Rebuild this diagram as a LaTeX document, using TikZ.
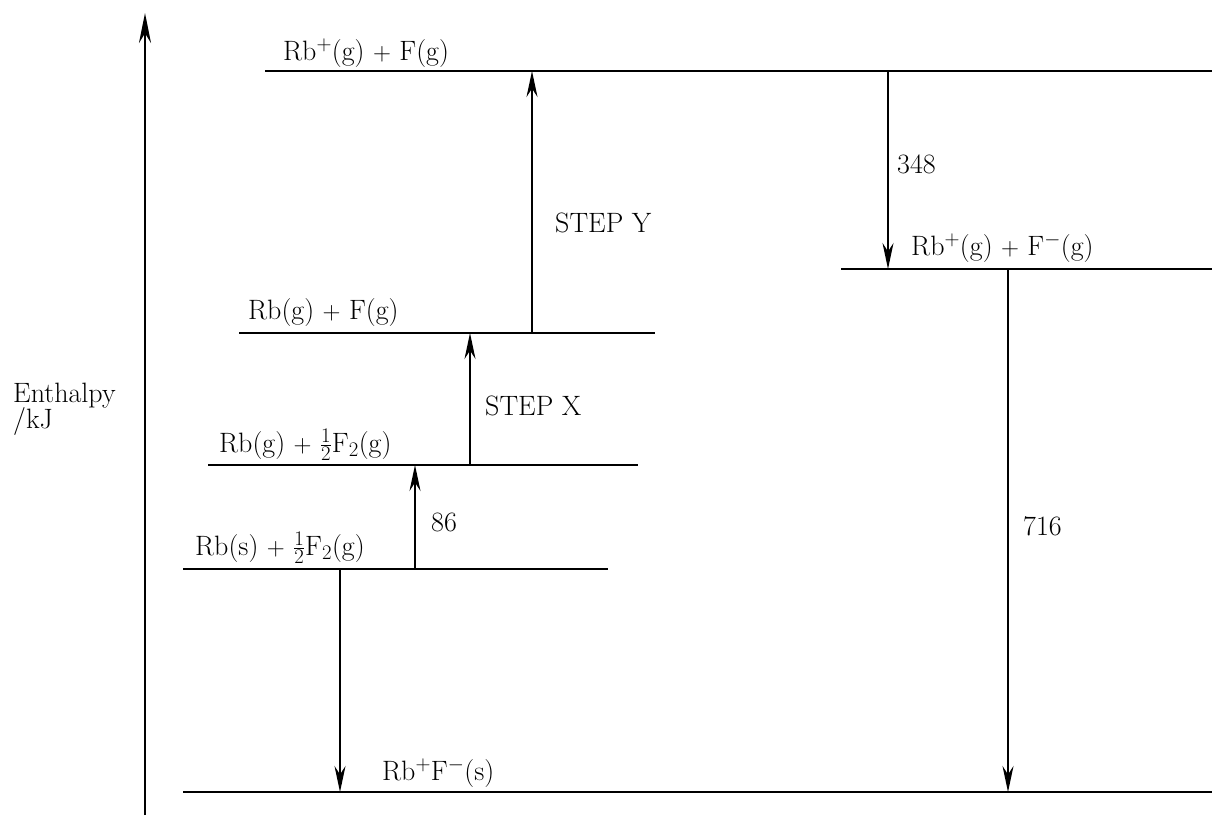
\documentclass[tikz,border=0pt]{standalone}
\usepackage{amsmath}
\usetikzlibrary{arrows.meta}
\begin{document}
\begin{tikzpicture}[x=1pt, y=-1pt, font=\fontsize{28}{33}\selectfont,
    level/.style={line width=2pt},
    enarrow/.style={line width=1.6pt, -{Stealth[length=26pt, width=11pt]}},
    lbl/.style={anchor=base west, inner sep=0pt}]
                \useasboundingbox (0,0) rectangle (1212,819);

                % Enthalpy axis
                \coordinate (axbot) at (145,815);
                \coordinate (axtop) at (145,13);
                \draw[line width=2.6pt, -{Stealth[length=30pt, width=12pt]}] (axbot) -- (axtop);
                \node[lbl] (enth) at (13,402) {Enthalpy};
                \node[lbl] (unit) at (13,428) {/kJ};

                % Levels
                \draw[level] (265,71) coordinate (topL) -- (1212,71) coordinate (topR);
                \draw[level] (841,269) coordinate (ionL) -- (1212,269) coordinate (ionR);
                \draw[level] (239,333) coordinate (atomL) -- (655,333) coordinate (atomR);
                \draw[level] (208,465) coordinate (gasL) -- (638,465) coordinate (gasR);
                \draw[level] (183,569) coordinate (solL) -- (608,569) coordinate (solR);
                \draw[level] (183,792) coordinate (latL) -- (1212,792) coordinate (latR);

                \node[lbl] (topLbl) at (283,60) {Rb$^+$(g) $+$ F(g)};
                \node[lbl] (ionLbl) at (911,255) {Rb$^+$(g) $+$ F$^-$(g)};
                \node[lbl] (atomLbl) at (248,319) {Rb(g) $+$ F(g)};
                \node[lbl] (gasLbl) at (219,452) {Rb(g) $+$ $\frac{1}{2}$F$_2$(g)};
                \node[lbl] (solLbl) at (195,555) {Rb(s) $+$ $\frac{1}{2}$F$_2$(g)};
                \node[lbl] (latLbl) at (382,780) {Rb$^+$F$^-$(s)};

                % Steps
                \coordinate (xY) at (532,0);
                \coordinate (xX) at (470,0);
                \coordinate (xAt) at (415,0);
                \coordinate (xDn) at (340,0);
                \coordinate (xEa) at (888,0);
                \coordinate (xLe) at (1008,0);

                \draw[enarrow] (xY |- atomL) -- (xY |- topL);
                \draw[enarrow] (xX |- gasL) -- (xX |- atomL);
                \draw[enarrow] (xAt |- solL) -- (xAt |- gasL);
                \draw[enarrow] (xDn |- solL) -- (xDn |- latL);
                \draw[enarrow] (xEa |- topL) -- (xEa |- ionL);
                \draw[enarrow] (xLe |- ionL) -- (xLe |- latL);

                \node[lbl] (stepY) at (555,232) {STEP Y};
                \node[lbl] (stepX) at (485,415) {STEP X};
                \node[lbl] (atomiz) at (431,531) {86};
                \node[lbl] (eaff) at (897,173) {348};
                \node[lbl] (latt) at (1023,535) {716};
            \end{tikzpicture}
\end{document}
